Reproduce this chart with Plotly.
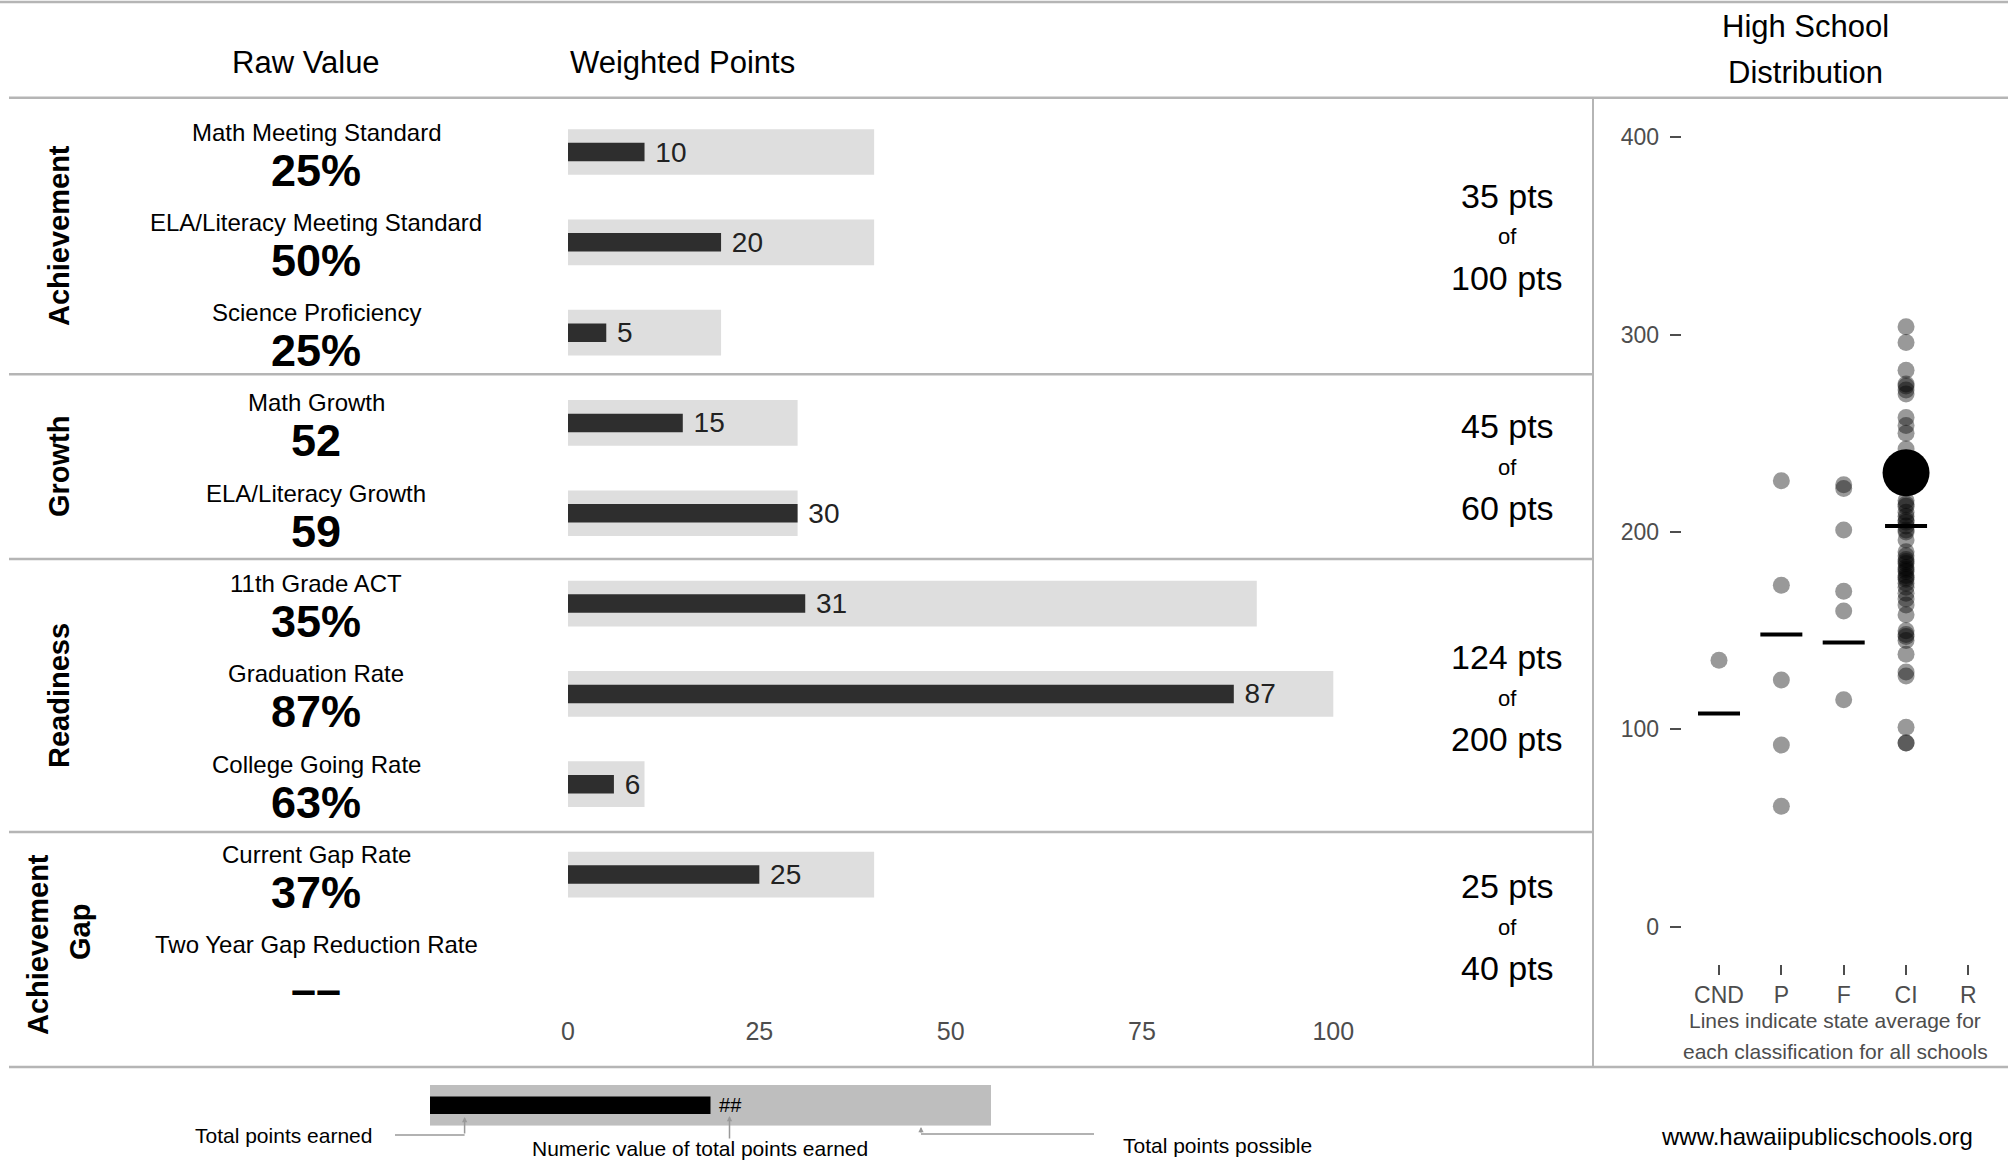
import plotly.graph_objects as go

W, H = 2011, 1172
FONT = "Liberation Sans, Arial, sans-serif"

# ---------------- data ----------------
measures = ["Math Meeting Standard", "ELA/Literacy Meeting Standard", "Science Proficiency",
            "Math Growth", "ELA/Literacy Growth",
            "11th Grade ACT", "Graduation Rate", "College Going Rate",
            "Current Gap Rate", "Two Year Gap Reduction Rate"]
groups = ["Achievement", "Achievement", "Achievement",
          "Growth", "Growth",
          "Readiness", "Readiness", "Readiness",
          "Achievement Gap", "Achievement Gap"]
group_order = ["Achievement", "Growth", "Readiness", "Achievement Gap"]
raw_values = ["25%", "50%", "25%", "52", "59", "35%", "87%", "63%", "37%", "––"]
points_earned = [10, 20, 5, 15, 30, 31, 87, 6, 25, None]
points_possible = [40, 40, 20, 30, 30, 90, 100, 10, 40, None]
bar_ticks = [0, 25, 50, 75, 100]

classes = ["CND", "P", "F", "CI", "R"]
dist_cnd = [135]
dist_p = [226, 173, 125, 92, 61]
dist_f = [224, 222, 201, 170, 160, 115]
dist_ci = [304, 296, 282, 275, 274, 272, 270, 258, 254, 250, 242,
           216, 214, 213, 210, 208, 206, 205, 203, 201, 200, 196,
           190, 188, 186, 185, 184, 182, 181, 180, 178, 177, 176, 174, 172,
           169, 166, 163, 158, 150, 148, 147, 145, 138, 129, 127, 101, 93, 93]
dist_r = []
avg_classes = ["CND", "P", "F", "CI"]
avg_values = [108, 148, 144, 203]
school_class = "CI"
school_score = 230
dist_ticks = [0, 100, 200, 300, 400]

key_earned = [50]
key_possible = [100]
key_label = ["##"]

# ---------------- helpers ----------------
def px(x):
    return x / W

def py(y):
    return 1 - y / H

rows = list(range(len(measures)))
fig = go.Figure()

# weighted points bars
fig.add_trace(go.Bar(
    x=points_possible, y=rows, orientation="h", width=0.506,
    marker=dict(color="#dedede", line=dict(width=0)),
    xaxis="x", yaxis="y", hoverinfo="skip", showlegend=False))
fig.add_trace(go.Bar(
    x=points_earned, y=rows, orientation="h", width=0.205,
    marker=dict(color="#2e2e2e", line=dict(width=0)),
    text=["" if v is None else "\u00a0" + str(v) for v in points_earned],
    textposition="outside", constraintext="none", cliponaxis=False,
    textfont=dict(family=FONT, size=28, color="#222222"),
    xaxis="x", yaxis="y", hoverinfo="skip", showlegend=False))

# distribution dots
series = {"CND": dist_cnd, "P": dist_p, "F": dist_f, "CI": dist_ci, "R": dist_r}
for c in classes:
    vals = series[c]
    if not vals:
        continue
    fig.add_trace(go.Scatter(
        x=[classes.index(c)] * len(vals), y=vals, mode="markers",
        marker=dict(size=17, color="rgba(0,0,0,0.4)", line=dict(width=0)),
        xaxis="x2", yaxis="y2", hoverinfo="skip", showlegend=False))
fig.add_trace(go.Scatter(
    x=[classes.index(c) for c in avg_classes], y=avg_values, mode="markers",
    marker=dict(symbol="line-ew", size=30, color="black",
                line=dict(width=4, color="black")),
    xaxis="x2", yaxis="y2", hoverinfo="skip", showlegend=False))
fig.add_trace(go.Scatter(
    x=[classes.index(school_class)], y=[school_score], mode="markers",
    marker=dict(size=47, color="black", line=dict(width=0)),
    xaxis="x2", yaxis="y2", hoverinfo="skip", showlegend=False))

# key bars
fig.add_trace(go.Bar(
    x=key_possible, y=[0], orientation="h", width=1.0,
    marker=dict(color="#bebebe", line=dict(width=0)),
    xaxis="x3", yaxis="y3", hoverinfo="skip", showlegend=False))
fig.add_trace(go.Bar(
    x=key_earned, y=[0], orientation="h", width=0.43,
    marker=dict(color="black", line=dict(width=0)),
    text=["\u00a0" + k for k in key_label], textposition="outside",
    constraintext="none", cliponaxis=False,
    textfont=dict(family=FONT, size=20, color="black"),
    xaxis="x3", yaxis="y3", hoverinfo="skip", showlegend=False))

ann = []

def text(x, y, s, size, color="black", bold=False, xanchor="center", angle=0):
    if bold:
        s = "<b>" + s + "</b>"
    ann.append(dict(x=px(x), y=py(y), xref="paper", yref="paper", text=s,
                    showarrow=False, xanchor=xanchor, yanchor="middle",
                    textangle=angle,
                    font=dict(family=FONT, size=size, color=color)))

# titles
text(306, 63, "Raw Value", 31)
text(568, 63, "Weighted Points", 31, xanchor="left")
text(1805, 27, "High School", 31)
text(1805, 73, "Distribution", 31)

# measure names and raw values (anchored on bar rows)
for i, (m, v) in enumerate(zip(measures, raw_values)):
    ann.append(dict(x=px(316), y=i, xref="paper", yref="y", text=m,
                    showarrow=False, yshift=20, xanchor="center", yanchor="middle",
                    font=dict(family=FONT, size=24, color="black")))
    ann.append(dict(x=px(316), y=i, xref="paper", yref="y", text="<b>" + v + "</b>",
                    showarrow=False, yshift=(-25 if v == "––" else -18),
                    xanchor="center", yanchor="middle",
                    font=dict(family=FONT, size=45, color="black")))

# group labels
text(59, 236, "Achievement", 29, bold=True, angle=-90)
text(59, 466, "Growth", 29, bold=True, angle=-90)
text(59, 696, "Readiness", 29, bold=True, angle=-90)
text(38, 945, "Achievement", 29, bold=True, angle=-90)
text(80, 932, "Gap", 29, bold=True, angle=-90)

# group totals
of_y = [237, 467, 698, 927]
for g, oy in zip(group_order, of_y):
    earned = sum(e for e, gg in zip(points_earned, groups) if gg == g and e is not None)
    possible = sum(p for p, gg in zip(points_possible, groups) if gg == g and p is not None)
    text(1507, oy - 41, f"{earned} pts", 34)
    text(1507, oy, "of", 22)
    text(1507, oy + 41, f"{possible} pts", 34)

# distribution caption
text(1835, 1020, "Lines indicate state average for", 21, color="#4d4d4d")
text(1835, 1051, "each classification for all schools", 21, color="#4d4d4d")

# key texts
text(283, 1135, "Total points earned", 21)
text(700, 1148, "Numeric value of total points earned", 21)
text(1217, 1145, "Total points possible", 21)
text(1817, 1136, "www.hawaiipublicschools.org", 24)

# key arrows
for (tx, ty, tail) in [(464.6, 1117, 18), (729.5, 1116, 24), (921, 1127, 7)]:
    ann.append(dict(x=px(tx), y=py(ty), xref="paper", yref="paper", text="",
                    showarrow=True, ax=0, ay=tail, arrowhead=2, arrowsize=0.7,
                    arrowwidth=1.5, arrowcolor="#999999"))

shapes = []

def hline(y, x0, x1, color="#b5b5b5", width=2.5):
    shapes.append(dict(type="line", xref="paper", yref="paper",
                       x0=px(x0), x1=px(x1), y0=py(y), y1=py(y),
                       line=dict(color=color, width=width)))

hline(2, 0, 2008)
hline(97.7, 9, 2008)
hline(374.3, 9, 1593)
hline(559, 9, 1593)
hline(832, 9, 1593)
hline(1067, 9, 2008)
shapes.append(dict(type="line", xref="paper", yref="paper",
                   x0=px(1593), x1=px(1593), y0=py(97.7), y1=py(1067),
                   line=dict(color="#b5b5b5", width=2)))
hline(1135, 395, 464.6, color="#999999", width=1.5)
hline(1134, 921, 1094, color="#999999", width=1.5)

fig.update_layout(
    width=W, height=H, margin=dict(l=0, r=0, t=0, b=0, pad=0, autoexpand=False),
    paper_bgcolor="white", plot_bgcolor="white",
    barmode="overlay", hovermode=False, showlegend=False,
    font=dict(family=FONT),
    annotations=ann, shapes=shapes,
    xaxis=dict(domain=[px(568), px(568 + 120 * 7.653)], range=[0, 120],
               tickvals=bar_ticks, ticks="", showgrid=False, zeroline=False,
               showline=False, ticklabelstandoff=4, automargin=False,
               tickfont=dict(family=FONT, size=25, color="#4d4d4d"),
               anchor="y"),
    yaxis=dict(domain=[py(1010), py(106.85)], range=[9.5, -0.5],
               visible=False, anchor="x", automargin=False),
    xaxis2=dict(domain=[px(1681.6), px(2005.8)], range=[-0.6, 4.6],
                tickvals=list(range(len(classes))), ticktext=classes,
                ticks="outside", ticklen=10, tickwidth=1.5, tickcolor="#4d4d4d",
                showgrid=False, zeroline=False, showline=False, automargin=False,
                tickfont=dict(family=FONT, size=23, color="#4d4d4d"),
                anchor="y2"),
    yaxis2=dict(domain=[py(964), py(100)], range=[-18.96, 418.95],
                tickvals=dist_ticks, ticks="outside", ticklen=11, tickwidth=1.5,
                tickcolor="#4d4d4d", showgrid=False, zeroline=False, showline=False,
                ticklabelstandoff=6, automargin=False,
                tickfont=dict(family=FONT, size=23, color="#4d4d4d"),
                anchor="x2"),
    xaxis3=dict(domain=[px(430), px(991)], range=[0, 100], visible=False, anchor="y3"),
    yaxis3=dict(domain=[py(1125.7), py(1085)], range=[-0.5, 0.5], visible=False, anchor="x3"),
)

fig.write_html("out.html", config={"displayModeBar": False},
               post_script="document.body.style.margin='0';document.body.style.overflow='hidden';")
